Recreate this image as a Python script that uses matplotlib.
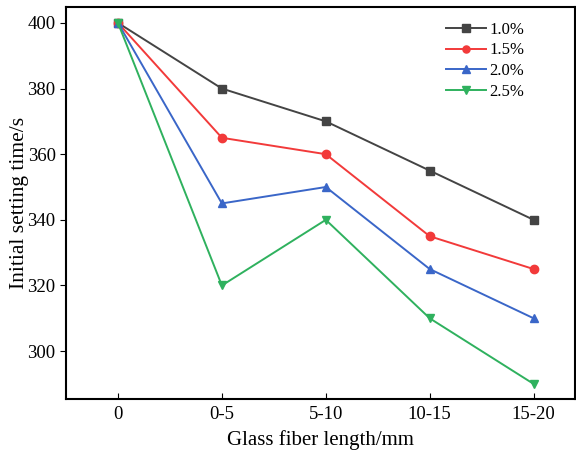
import matplotlib
matplotlib.use("Agg")
import matplotlib.pyplot as plt

plt.rcParams['font.family'] = ['Liberation Serif', 'DejaVu Serif']

categories = ["0", "0-5", "5-10", "10-15", "15-20"]
labels = ["1.0%", "1.5%", "2.0%", "2.5%"]
s10 = [400, 380, 370, 355, 340]
s15 = [400, 365, 360, 335, 325]
s20 = [400, 345, 350, 325, 310]
s25 = [400, 320, 340, 310, 290]
series = [s10, s15, s20, s25]
colors = ["#444444", "#f23a3a", "#3a66c8", "#2fb15e"]
markers = ["s", "o", "^", "v"]

fig = plt.figure(figsize=(5.76, 4.55), dpi=100)
ax = fig.add_axes([0.1146, 0.123, 0.884, 0.862])
x = list(range(len(categories)))
for vals, lab, c, m in zip(series, labels, colors, markers):
    ax.plot(x, vals, color=c, marker=m, markersize=6, linewidth=1.4, label=lab)

ax.set_xlim(-0.5, 4.4)
ax.set_ylim(285.4, 404.9)
ax.set_xticks(x)
ax.set_xticklabels(categories)
ax.set_yticks([300, 320, 340, 360, 380, 400])
ax.tick_params(axis='x', direction='in', length=4, labelsize=13.5, pad=5)
ax.tick_params(axis='y', direction='out', length=4, labelsize=13.5)
for sp in ax.spines.values():
    sp.set_linewidth(1.5)
ax.set_xlabel("Glass fiber length/mm", fontsize=15, labelpad=5)
ax.set_ylabel("Initial setting time/s", fontsize=15.5, labelpad=-1)
leg = ax.legend(loc='upper right', bbox_to_anchor=(0.93, 1.0), frameon=False, fontsize=12,
                handlelength=2.4, labelspacing=0.28, handletextpad=0.2, markerscale=0.85)
fig.savefig("out.png", dpi=100)
